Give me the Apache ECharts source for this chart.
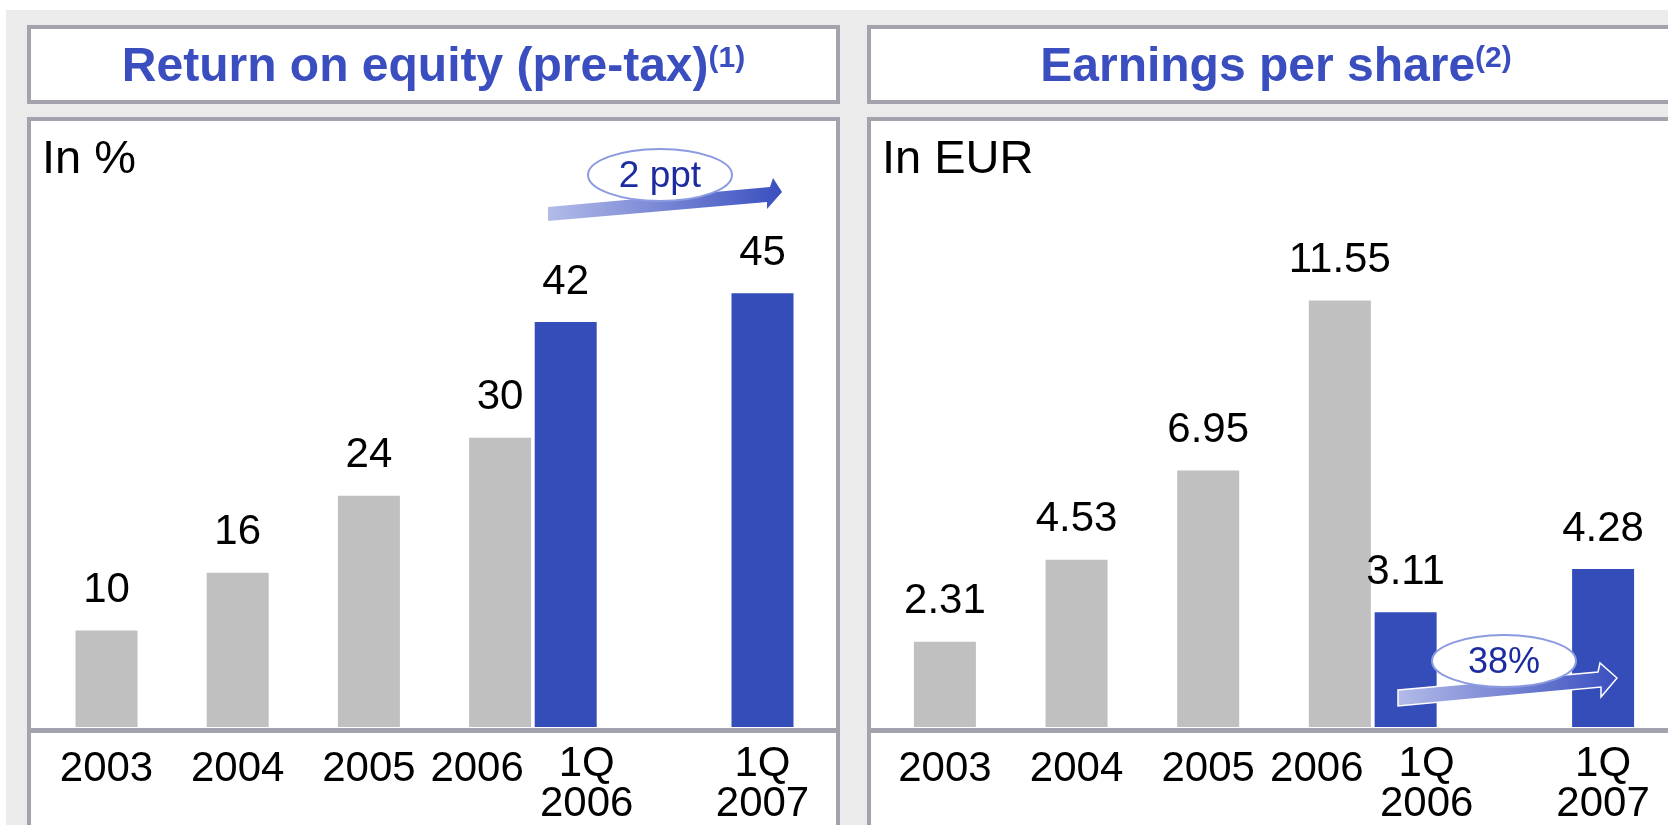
<!DOCTYPE html>
<html>
<head>
<meta charset="utf-8">
<script src="https://cdn.jsdelivr.net/npm/echarts@6/dist/echarts.min.js"></script>
<style>
  html, body { margin: 0; padding: 0; background: #fff; }
  #chart { width: 1668px; height: 825px; }
</style>
</head>
<body>
<div id="chart"></div>
<script>
// chart data
const periods = ['2003', '2004', '2005', '2006', '1Q\n2006', '1Q\n2007'];
const quarterly = [false, false, false, false, true, true];
const roe = [10, 16, 24, 30, 42, 45];          // in %
const eps = [2.31, 4.53, 6.95, 11.55, 3.11, 4.28]; // in EUR

// the slide spaces its bars unevenly: empty category slots before each bar
const gapsBefore = [0, 1, 1, 1, 0, 2];

const FONT = '"Liberation Sans", Arial, sans-serif';
const GREY = '#c0c0c0';
const BLUE = '#354db9';
const TITLE_BLUE = '#3a4ebf';
const BORDER = '#a3a3ad';

function buildSlots(values) {
  const cats = [];
  const data = [];
  periods.forEach((p, i) => {
    for (let g = 0; g < gapsBefore[i]; g++) {
      cats.push('');
      data.push('-');
    }
    cats.push(p);
    data.push({ value: values[i], itemStyle: { color: quarterly[i] ? BLUE : GREY } });
  });
  return { cats, data };
}

const roeSlots = buildSlots(roe);
const epsSlots = buildSlots(eps);

// labels of 2006 and 1Q 2006 are pushed apart so they don't collide
function periodLabel(value) {
  if (!value) return '';
  if (value === '2006') return '{yl|2006}';
  if (value === '1Q\n2006') return '{qr|1Q}\n{qr|2006}';
  if (value.indexOf('\n') >= 0) return value.split('\n').map(s => '{q|' + s + '}').join('\n');
  return '{y|' + value + '}';
}

const labelText = { fontSize: 42, fontFamily: FONT, color: '#000', lineHeight: 40 };

function xAxisFor(gridIndex, cats) {
  return {
    type: 'category',
    gridIndex: gridIndex,
    data: cats,
    z: 10,
    axisLine: { show: false },
    axisTick: { show: false },
    splitLine: { show: false },
    axisLabel: {
      interval: 0,
      margin: 17,
      formatter: periodLabel,
      rich: {
        y: Object.assign({ padding: [11, 0, 0, 0] }, labelText),
        yl: Object.assign({ padding: [11, 46, 0, 0] }, labelText),
        q: Object.assign({}, labelText),
        qr: Object.assign({ padding: [0, 0, 0, 42] }, labelText)
      }
    }
  };
}

function barSeries(idx, data, fmt) {
  return {
    type: 'bar',
    xAxisIndex: idx,
    yAxisIndex: idx,
    data: data,
    barWidth: 62,
    z: 10,
    label: {
      show: true,
      position: 'top',
      distance: 19,
      fontSize: 42,
      fontFamily: FONT,
      color: '#000',
      formatter: p => fmt(p.value)
    }
  };
}

// slide furniture: panels, baselines, growth arrows
function panel(x, w, title, sup, unit) {
  return [
    { type: 'rect', z: 1, shape: { x: x + 2, y: 27, width: w - 4, height: 75 },
      style: { fill: '#fff', stroke: BORDER, lineWidth: 4 } },
    { type: 'rect', z: 1, shape: { x: x + 2, y: 119, width: w - 4, height: 800 },
      style: { fill: '#fff', stroke: BORDER, lineWidth: 4 } },
    { type: 'rect', z: 2, shape: { x: x, y: 728, width: w, height: 5 },
      style: { fill: BORDER } },
    { type: 'text', z: 3, x: x + w / 2, y: 68,
      style: {
        text: '{t|' + title + '}{s|' + sup + '}',
        align: 'center', verticalAlign: 'middle',
        rich: {
          t: { fontSize: 48, fontWeight: 'bold', fontFamily: FONT, fill: TITLE_BLUE },
          s: { fontSize: 30, fontWeight: 'bold', fontFamily: FONT, fill: TITLE_BLUE, verticalAlign: 'top' }
        }
      } },
    { type: 'text', z: 3, x: x + 15, y: 137,
      style: { text: unit, fontSize: 47, fontFamily: FONT, fill: '#000', verticalAlign: 'top' } }
  ];
}

function growthBubble(points, cx, cy, text, fontSize, outlined) {
  return [
    { type: 'polygon', z: 50, shape: { points: points },
      style: {
        fill: new echarts.graphic.LinearGradient(0, 0, 1, 0, [
          { offset: 0, color: '#b3bbe8' },
          { offset: 1, color: '#3a4fc0' }
        ]),
        stroke: outlined ? '#fff' : null,
        lineWidth: outlined ? 1.5 : 0
      } },
    { type: 'ellipse', z: 51, shape: { cx: cx, cy: cy, rx: 72, ry: 26 },
      style: { fill: '#fff', stroke: '#8c9be0', lineWidth: 2 } },
    { type: 'text', z: 52, x: cx, y: cy + 2,
      style: { text: text, fontSize: fontSize, fontFamily: FONT, fill: '#1c2b9e',
        align: 'center', verticalAlign: 'middle' } }
  ];
}

const chart = echarts.init(document.getElementById('chart'));

chart.setOption({
  animation: false,
  backgroundColor: '#fff',
  grid: [
    { left: 73.7, width: 721.6, top: 245, bottom: 97 },
    { left: 912, width: 724, top: 284, bottom: 97 }
  ],
  xAxis: [xAxisFor(0, roeSlots.cats), xAxisFor(1, epsSlots.cats)],
  yAxis: [
    { type: 'value', gridIndex: 0, min: 0, max: 50, show: false },
    { type: 'value', gridIndex: 1, min: 0, max: 12, show: false }
  ],
  series: [
    barSeries(0, roeSlots.data, v => String(v)),
    barSeries(1, epsSlots.data, v => v.toFixed(2))
  ],
  graphic: [
    { type: 'rect', z: 0, shape: { x: 6, y: 10, width: 1700, height: 830 }, style: { fill: '#ebebeb' } }
  ].concat(
    panel(27, 813, 'Return on equity (pre-tax)', '(1)', 'In %'),
    panel(867, 818, 'Earnings per share', '(2)', 'In EUR'),
    growthBubble([[548, 207], [770, 187], [773, 178], [782, 192], [767, 209], [767, 202], [548, 221]],
      660, 175, '2 ppt', 37, false),
    growthBubble([[1398, 690], [1598, 672], [1600, 663], [1617, 678], [1601, 697], [1601, 687], [1398, 706]],
      1504, 661, '38%', 36, true)
  )
});
</script>
</body>
</html>
